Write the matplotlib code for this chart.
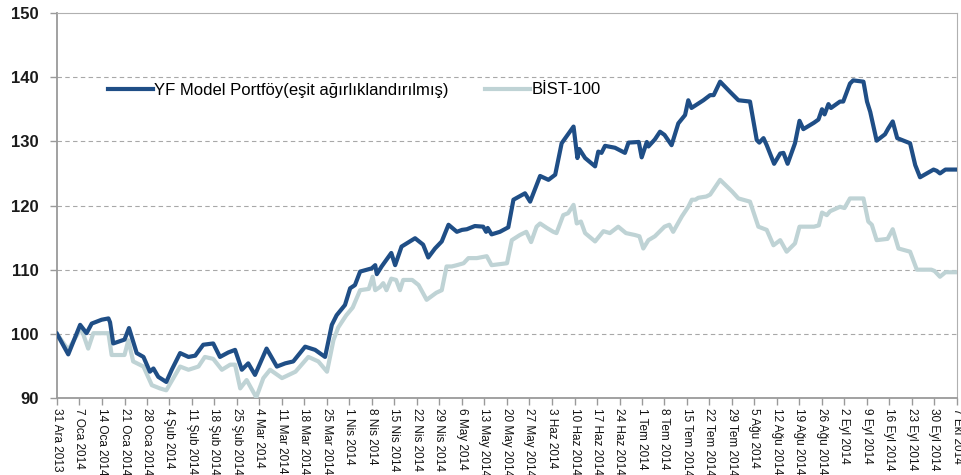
import matplotlib
matplotlib.use("Agg")
import matplotlib.pyplot as plt

plt.rcParams['font.family'] = ['Liberation Sans', 'DejaVu Sans']

# ---- data (x = days since 31 Dec 2013) ----
yf_days = [0, 3.5, 7.2, 9.2, 10.8, 13.9, 16, 16.5, 17.5, 21, 22.4, 24.8, 26.9, 28.9, 30, 31.5, 34, 35.7,
           38.3, 40.9, 43, 45.5, 48.6, 50.7, 53.3, 55.4, 57.5, 59.5, 61.6, 65.2, 68.4, 71, 73.5, 77.2,
           80.3, 83.4, 85.5, 87, 89.6, 91.2, 92.7, 94.3, 97.9, 99, 99.5, 101, 104, 105.2, 107.2, 111.4,
           113.9, 115.5, 117.6, 119.7, 121.8, 124.4, 126, 127.5, 130, 132.6, 133.5, 134, 135.2, 137.8,
           140.4, 142, 145.6, 147.2, 150.3, 152.9, 155, 157, 160.7, 161.9, 162.5, 164.3, 167.4, 168.4,
           169.4, 170.5, 173.6, 176.7, 177.8, 181, 181.9, 183.5, 184, 186, 187.6, 189, 191.2, 193.3,
           195.4, 196.4, 197.4, 201.1, 203.2, 204.3, 206.3, 209.4, 212, 215.6, 217.7, 218.5, 219.8,
           220.8, 223.1, 225, 226, 227.3, 229.6, 231, 232.2, 235.5, 236.9, 238, 238.8, 240, 240.8,
           243.6, 244.6, 246.7, 247.7, 250.9, 252, 253, 255, 257.6, 258.6, 260, 261.4, 265.4, 267,
           268.5, 272.7, 273.7, 274.7, 276.4, 280]
yf_vals = [100, 96.8, 101.4, 100.1, 101.6, 102.2, 102.4, 101.8, 98.5, 99.1, 100.9, 97, 96.4, 94.1, 94.6,
           93.3, 92.5, 94.4, 97, 96.4, 96.6, 98.3, 98.5, 96.4, 97.1, 97.5, 94.4, 95.4, 93.6, 97.7, 94.9,
           95.4, 95.7, 98, 97.5, 96.4, 101.4, 102.9, 104.5, 107.1, 107.6, 109.7, 110.2, 110.7, 109.3,
           110.5, 112.6, 110.7, 113.6, 114.9, 113.9, 111.9, 113.3, 114.4, 117, 115.9, 116.2, 116.3,
           116.8, 116.7, 115.9, 116.5, 115.5, 115.9, 116.6, 120.9, 121.9, 120.6, 124.6, 124, 124.8,
           129.7, 132.3, 127.4, 128.8, 127.4, 126.1, 128.4, 128.2, 129.3, 129, 128.2, 129.8, 129.9,
           127.5, 129.9, 129.2, 130.3, 131.5, 131, 129.4, 132.8, 134.1, 136.4, 135.2, 136.4, 137.2,
           137.2, 139.3, 137.7, 136.4, 136.2, 130.2, 129.8, 130.5, 129.4, 126.5, 128.1, 128.2, 126.5,
           129.7, 133.2, 131.9, 132.9, 133.4, 135, 134.2, 135.8, 135.2, 136.2, 136.2, 139, 139.5,
           139.3, 136.2, 134.6, 130.1, 131.1, 132, 133.1, 130.5, 129.7, 126.3, 124.4, 125.6, 125.4,
           125, 125.6, 125.6]

bist_days = [0, 3.5, 7.5, 9.7, 11.3, 16, 17, 21, 22.2, 23.7, 26.9, 29.5, 32, 34, 36.2, 38.3, 40.9, 44,
             46, 48.6, 51.3, 53.9, 55.4, 57, 59, 62, 64.2, 66.3, 70, 74.2, 78.2, 81.3, 84, 86, 87.5,
             90, 92, 94.3, 97, 98.2, 99, 100.5, 101.5, 102.5, 104, 105.5, 106.7, 107.7, 110.5, 112.5,
             115, 118, 119.7, 121.2, 122.8, 124.4, 126.5, 128, 130.6, 133.7, 135.2, 140, 141.5, 144,
             146, 147.5, 149.2, 150.3, 152.4, 154.4, 155.4, 157.5, 159, 160.7, 161.7, 163, 164.3,
             167.4, 170, 172, 174.6, 177, 179.8, 181.2, 182.4, 184, 186, 189, 190.5, 191.7, 194.4,
             196.4, 197.5, 198.6, 199.5, 202, 203.2, 206.3, 210, 212, 215.6, 218.2, 220.8, 222.9,
             225, 227, 229.6, 231, 235.5, 237, 238, 239.5, 240.5, 243.6, 245, 246.7, 250.9, 252.4,
             253.5, 255, 258.4, 260, 261.8, 265.4, 267.5, 272, 273, 274.7, 276.4, 280]
bist_vals = [100, 97.5, 100.9, 97.7, 100.1, 100.1, 96.7, 96.7, 99, 95.7, 94.9, 92, 91.5, 91.2, 93.1,
             94.9, 94.4, 94.9, 96.4, 96.1, 94.4, 95.2, 95.2, 91.5, 92.8, 90.1, 93.1, 94.4, 93.1, 94.1,
             96.4, 95.7, 94.1, 99, 101, 102.9, 104.1, 106.8, 107, 108.9, 106.8, 107.3, 107.9, 106.8,
             108.6, 108.4, 106.8, 108.4, 108.4, 107.6, 105.3, 106.4, 106.8, 110.5, 110.5, 110.7, 111,
             111.8, 111.8, 112.1, 110.7, 111, 114.6, 115.4, 115.9, 114.3, 116.7, 117.2, 116.5, 115.9,
             115.7, 118.5, 118.8, 120.1, 117.2, 117.5, 115.7, 114.4, 116, 115.7, 116.7, 115.7, 115.4,
             115.2, 113.3, 114.6, 115.2, 116.7, 117, 115.9, 118.3, 119.8, 120.9, 120.9, 121.2, 121.4,
             121.7, 124, 122.2, 121.1, 120.6, 116.7, 116.2, 113.8, 114.6, 112.8, 114.1, 116.7, 116.7,
             116.9, 118.9, 118.5, 119.1, 119.8, 119.6, 121.1, 121.1, 117.5, 117, 114.6, 114.8, 116.3,
             113.3, 112.8, 110, 110, 109.8, 108.9, 109.6, 109.6]

tick_labels = ["31 Ara 2013", "7 Oca 2014", "14 Oca 2014", "21 Oca 2014", "28 Oca 2014",
               "4 Şub 2014", "11 Şub 2014", "18 Şub 2014", "25 Şub 2014", "4 Mar 2014",
               "11 Mar 2014", "18 Mar 2014", "25 Mar 2014", "1 Nis 2014", "8 Nis 2014",
               "15 Nis 2014", "22 Nis 2014", "29 Nis 2014", "6 May 2014", "13 May 2014",
               "20 May 2014", "27 May 2014", "3 Haz 2014", "10 Haz 2014", "17 Haz 2014",
               "24 Haz 2014", "1 Tem 2014", "8 Tem 2014", "15 Tem 2014", "22 Tem 2014",
               "29 Tem 2014", "5 Ağu 2014", "12 Ağu 2014", "19 Ağu 2014", "26 Ağu 2014",
               "2 Eyl 2014", "9 Eyl 2014", "16 Eyl 2014", "23 Eyl 2014", "30 Eyl 2014", "7 Eki 2014"]
tick_days = [7 * i for i in range(len(tick_labels))]

series_names = ["YF Model Portföy(eşit ağırlıklandırılmış)", "BİST-100"]
dark = "#1F4E86"
light = "#BFD3D5"

fig = plt.figure(figsize=(9.62, 4.75), dpi=100)
ax = fig.add_axes([57 / 962, (475 - 398) / 475, 900 / 962, 385 / 475])

ax.plot(bist_days, bist_vals, color=light, lw=3.0, solid_joinstyle='round', label=series_names[1], zorder=3)
ax.plot(yf_days, yf_vals, color=dark, lw=3.0, solid_joinstyle='round', label=series_names[0], zorder=4)

ax.set_xlim(0, 280)
ax.set_ylim(90, 150)
ax.set_yticks(range(90, 151, 10))
ax.set_yticklabels([str(v) for v in range(90, 151, 10)], fontsize=12, fontweight='bold', color='#1a1a1a')
ax.set_xticks(tick_days)
ax.set_xticklabels(tick_labels, rotation=270, fontsize=8.5, ha='center', va='top', color='#111111')

for v in range(100, 150, 10):
    ax.axhline(v, color='#A8A8A8', lw=0.8, ls=(0, (4, 3)), zorder=1)

for s in ['left', 'bottom']:
    ax.spines[s].set_color('#9A9A9A')
    ax.spines[s].set_linewidth(1.3)
for s in ['top', 'right']:
    ax.spines[s].set_color('#B0B0B0')
    ax.spines[s].set_linewidth(0.8)

ax.tick_params(axis='both', direction='out', length=5, width=1, color='#9A9A9A')
ax.tick_params(axis='y', pad=8)
ax.tick_params(axis='x', pad=2)

handles, labels = ax.get_legend_handles_labels()
leg = ax.legend(handles[::-1], labels[::-1], ncol=2, frameon=False, loc='center left',
                bbox_to_anchor=(0.057, 0.80), fontsize=12, handlelength=2.7,
                handletextpad=0.05, columnspacing=2.2, borderaxespad=0, borderpad=0)

fig.savefig("out.png", dpi=100)
